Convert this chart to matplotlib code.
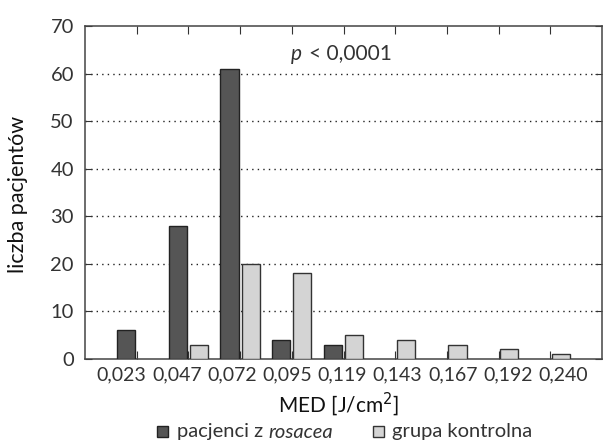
import matplotlib
matplotlib.use("Agg")
import matplotlib.pyplot as plt
from matplotlib.patches import Rectangle
import numpy as np

categories = ["0,023", "0,047", "0,072", "0,095", "0,119", "0,143", "0,167", "0,192", "0,240"]
rosacea = [6, 28, 61, 4, 3, 0, 0, 0, 0]
kontrola = [0, 3, 20, 18, 5, 4, 3, 2, 1]
yticks = [0, 10, 20, 30, 40, 50, 60, 70]

plt.rcParams['font.family'] = ['Lato', 'DejaVu Sans']
txt = '#333333'

fig = plt.figure(figsize=(6.04, 4.46), dpi=100)
ax = fig.add_axes([85/604, 1-359/446, (602-85)/604, (359-26)/446])

x = np.arange(len(categories))
w = 0.35
g = 0.03
for xi, v in zip(x, rosacea):
    if v > 0:
        ax.bar(xi - g - w/2, v, width=w, color='#555555', edgecolor='#222222', linewidth=1.0, zorder=3)
for xi, v in zip(x, kontrola):
    if v > 0:
        ax.bar(xi + g + w/2, v, width=w, color='#d4d4d4', edgecolor='#333333', linewidth=1.0, zorder=3)

ax.set_xlim(-1, 9)
ax.set_ylim(0, 70)
ax.set_yticks(yticks)
ax.set_yticklabels([str(t) for t in yticks], fontsize=14.5, color=txt)
ax.set_xticks(x)
ax.set_xticklabels([])
ax.tick_params(axis='x', which='both', direction='in', length=6, top=True, bottom=True, color='#333333')
ax.tick_params(axis='y', direction='in', length=5, left=True, right=True, color='#333333', pad=8)
for yt in yticks[1:-1]:
    ax.axhline(yt, color='#222222', linestyle=(0, (1, 3)), linewidth=1.0, zorder=1)
for s in ax.spines.values():
    s.set_color('#444444')
    s.set_linewidth(1.1)

# category labels
label_pos = -0.29 + 1.067 * np.arange(len(categories))
for lp, c in zip(label_pos, categories):
    ax.text(lp, -1.6, c, ha='center', va='top', fontsize=14, color=txt)

ax.text(3.2, 64.2, 'p', fontsize=15, style='italic', color=txt, ha='right', va='center')
ax.text(3.33, 64.2, '< 0,0001', fontsize=15, color=txt, ha='left', va='center')

fig.text(339/604, 1-404/446, 'MED [J/cm$^2$]', ha='center', va='center', fontsize=15, color='#111111')
fig.text(18/604, 1-194/446, 'liczba pacjentów', rotation=90, ha='center', va='center', fontsize=15.5, color='#111111')

# legend
fig.patches.append(Rectangle((157/604, 1-437/446), 11/604, 11/446, transform=fig.transFigure,
                             facecolor='#555555', edgecolor='#222222', linewidth=1))
t1 = fig.text(177/604, 1-432/446, 'pacjenci z', ha='left', va='center', fontsize=14.5, color=txt)
fig.canvas.draw()
bb = t1.get_window_extent()
fig.text(bb.x1/fig.bbox.width + 5/604, 1-432/446, 'rosacea', ha='left', va='center', fontsize=14.5, color=txt, style='italic')
fig.patches.append(Rectangle((373/604, 1-437/446), 11/604, 11/446, transform=fig.transFigure,
                             facecolor='#d4d4d4', edgecolor='#333333', linewidth=1))
fig.text(392/604, 1-432/446, 'grupa kontrolna', ha='left', va='center', fontsize=14.5, color=txt)

fig.savefig('out.png', dpi=100)
